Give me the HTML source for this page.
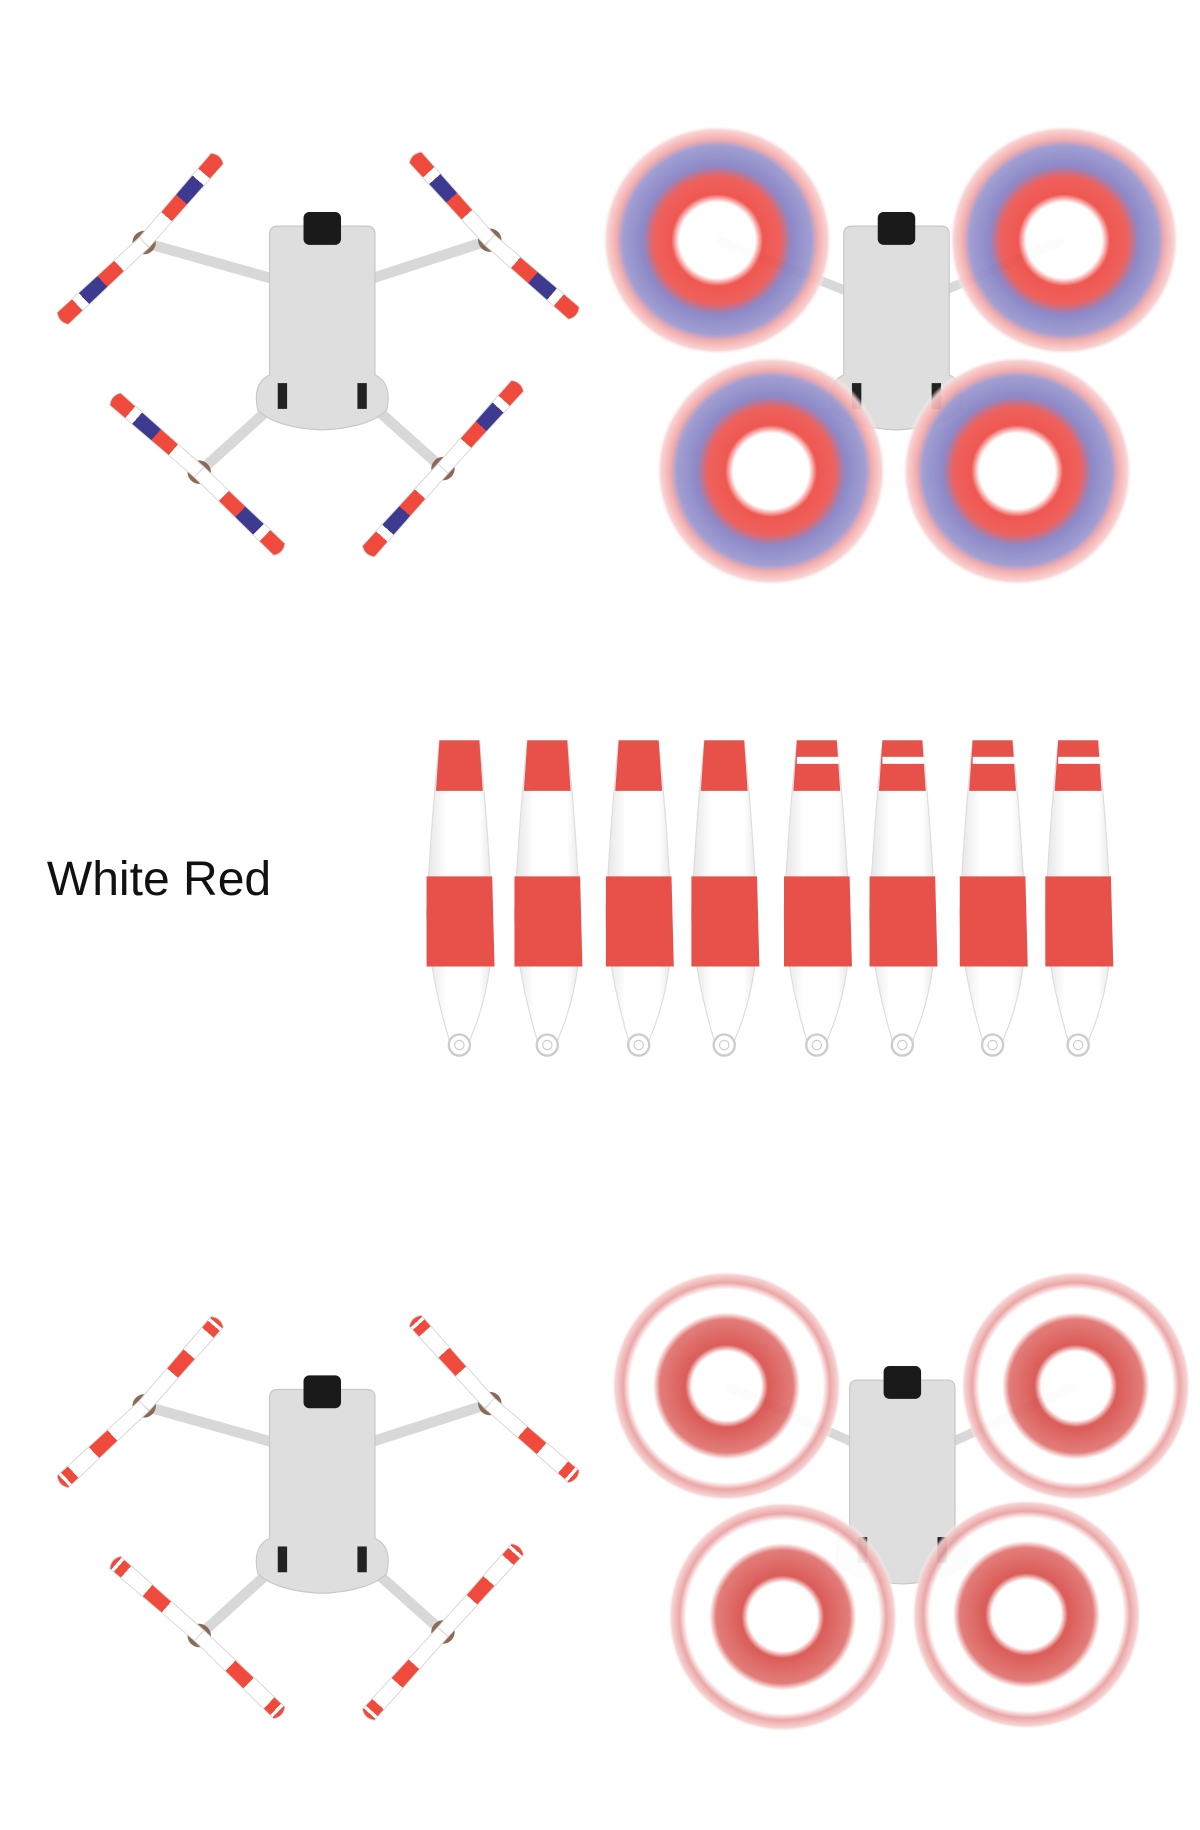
<!DOCTYPE html>
<html><head><meta charset="utf-8"><style>html,body{margin:0;padding:0;background:#fff}svg{display:block}</style></head><body>
<svg width="1200" height="1830" viewBox="0 0 1024 1562" preserveAspectRatio="none" xmlns="http://www.w3.org/2000/svg">
<defs>
<linearGradient id="gA" x1="0" x2="1" y1="0" y2="0">
<stop offset="0" stop-color="#fff"/><stop offset="0.3" stop-color="#fff"/><stop offset="0.3" stop-color="#ef4a3c"/><stop offset="0.5" stop-color="#ef4a3c"/><stop offset="0.5" stop-color="#3d3a8f"/><stop offset="0.72" stop-color="#3d3a8f"/><stop offset="0.72" stop-color="#fff"/><stop offset="0.8" stop-color="#fff"/><stop offset="0.8" stop-color="#ef4a3c"/><stop offset="1" stop-color="#ef4a3c"/></linearGradient>
<linearGradient id="gB" x1="0" x2="1" y1="0" y2="0">
<stop offset="0" stop-color="#fff"/><stop offset="0.38" stop-color="#fff"/><stop offset="0.38" stop-color="#ef4a3c"/><stop offset="0.6" stop-color="#ef4a3c"/><stop offset="0.6" stop-color="#fff"/><stop offset="0.85" stop-color="#fff"/><stop offset="0.85" stop-color="#ef4a3c"/><stop offset="0.93" stop-color="#ef4a3c"/><stop offset="0.93" stop-color="#fff"/><stop offset="0.96" stop-color="#fff"/><stop offset="0.96" stop-color="#ef4a3c"/></linearGradient>
<linearGradient id="pw" x1="0" x2="1" y1="0" y2="0"><stop offset="0" stop-color="#e4e4e4"/><stop offset="0.3" stop-color="#fff"/><stop offset="0.8" stop-color="#fff"/><stop offset="1" stop-color="#e6e6e6"/></linearGradient>
<radialGradient id="dA"><stop offset="0" stop-color="#fff"/><stop offset="0.33" stop-color="#fff"/><stop offset="0.4" stop-color="#ee4b45"/><stop offset="0.55" stop-color="#ee5550"/><stop offset="0.65" stop-color="#8480c4"/><stop offset="0.82" stop-color="#9a97cf"/><stop offset="0.88" stop-color="#f3a8a8"/><stop offset="0.96" stop-color="#f8d0d0"/><stop offset="1" stop-color="#fff" stop-opacity="0"/></radialGradient>
<radialGradient id="dB"><stop offset="0" stop-color="#fff"/><stop offset="0.3" stop-color="#fff"/><stop offset="0.36" stop-color="#d8504c"/><stop offset="0.58" stop-color="#e07370"/><stop offset="0.64" stop-color="#fff"/><stop offset="0.84" stop-color="#fff"/><stop offset="0.9" stop-color="#eaa0a0"/><stop offset="0.97" stop-color="#f6d0d0"/><stop offset="1" stop-color="#fff" stop-opacity="0"/></radialGradient>
<g id="bA"><path d="M0,-6 L95,-7 Q100,0 95,7 L0,6 Z" fill="url(#gA)" stroke="#d6d6d6" stroke-width="0.8"/></g>
<g id="bB"><path d="M0,-6 L95,-7 Q100,0 95,7 L0,6 Z" fill="url(#gB)" stroke="#d6d6d6" stroke-width="0.8"/></g>
<g id="body">
<path d="M-45,-65 Q-45,-72 -38,-72 L38,-72 Q45,-72 45,-65 L45,55 Q60,62 55,85 Q40,100 0,102 Q-40,100 -55,85 Q-60,62 -45,55 Z" fill="#dedede" stroke="#c8c8c8"/>
<rect x="-16" y="-84" width="32" height="28" rx="5" fill="#1a1a1a"/>
<rect x="-38" y="62" width="8" height="22" fill="#222"/><rect x="30" y="62" width="8" height="22" fill="#222"/>
</g>
<g id="motor"><circle r="10" fill="#8a6a55"/><circle r="5" fill="#eee"/></g>
<g id="droneL">
<g stroke="#d8d8d8" stroke-width="9">
<line x1="-35" y1="-25" x2="-152" y2="-58"/><line x1="35" y1="-25" x2="143" y2="-60"/>
<line x1="-30" y1="70" x2="-105" y2="138"/><line x1="30" y1="70" x2="103" y2="135"/></g>
<use href="#body"/>
<use href="#motor" x="-152" y="-58"/><use href="#motor" x="143" y="-60"/><use href="#motor" x="-105" y="138"/><use href="#motor" x="103" y="135"/>
</g>
<g id="prop">
<path d="M-17,632 L17,632 Q24,700 28,780 Q30,830 14,875 L8,890 L-8,890 Q-26,830 -28,780 Q-24,700 -17,632 Z" fill="url(#pw)" stroke="#ddd"/>
<path d="M-17,632 L17,632 L20,675 L-20,675 Z" fill="#e8504a"/>
<path d="M-28,748 L28,748 L30,825 L-28,825 Z" fill="#e8504a"/>
<circle cx="0" cy="892" r="9" fill="#fff" stroke="#ccc" stroke-width="2"/><circle cx="0" cy="892" r="4" fill="#fff" stroke="#ccc"/>
</g>
</defs>

<!-- top left -->
<g transform="translate(275,265)"><use href="#droneL"/>
<use href="#bA" transform="translate(-152,-58) rotate(-49)"/><use href="#bA" transform="translate(-152,-58) rotate(137)"/>
<use href="#bA" transform="translate(143,-60) rotate(-132)"/><use href="#bA" transform="translate(143,-60) rotate(41)"/>
<use href="#bA" transform="translate(-105,138) rotate(-139)"/><use href="#bA" transform="translate(-105,138) rotate(44)"/>
<use href="#bA" transform="translate(103,135) rotate(-48)"/><use href="#bA" transform="translate(103,135) rotate(132)"/>
</g>
<!-- top right -->
<g transform="translate(765,265)"><g stroke="#d8d8d8" stroke-width="8"><line x1="0" y1="0" x2="-153" y2="-60"/><line x1="0" y1="0" x2="143" y2="-60"/></g><use href="#body"/></g>
<g opacity="0.93"><circle cx="612" cy="205" r="98" fill="url(#dA)"/><circle cx="908" cy="205" r="98" fill="url(#dA)"/><circle cx="658" cy="402" r="98" fill="url(#dA)"/><circle cx="868" cy="402" r="98" fill="url(#dA)"/></g>

<!-- middle -->
<text x="40" y="764" font-family="Liberation Sans, sans-serif" font-size="41" fill="#111">White Red</text>
<use href="#prop" x="392"/><use href="#prop" x="467"/><use href="#prop" x="545"/><use href="#prop" x="618"/>
<use href="#prop" x="697"/><use href="#prop" x="770"/><use href="#prop" x="847"/><use href="#prop" x="920"/>
<g fill="#fff"><rect x="680" y="646" width="36" height="6"/><rect x="753" y="646" width="36" height="6"/><rect x="830" y="646" width="36" height="6"/><rect x="903" y="646" width="36" height="6"/></g>

<!-- bottom left -->
<g transform="translate(275,1258)"><use href="#droneL"/>
<use href="#bB" transform="translate(-152,-58) rotate(-49)"/><use href="#bB" transform="translate(-152,-58) rotate(137)"/>
<use href="#bB" transform="translate(143,-60) rotate(-132)"/><use href="#bB" transform="translate(143,-60) rotate(41)"/>
<use href="#bB" transform="translate(-105,138) rotate(-139)"/><use href="#bB" transform="translate(-105,138) rotate(44)"/>
<use href="#bB" transform="translate(103,135) rotate(-48)"/><use href="#bB" transform="translate(103,135) rotate(132)"/>
</g>
<!-- bottom right -->
<g transform="translate(770,1250)"><g stroke="#d8d8d8" stroke-width="8"><line x1="0" y1="0" x2="-150" y2="-67"/><line x1="0" y1="0" x2="148" y2="-67"/></g><use href="#body"/></g>
<g opacity="0.93"><circle cx="620" cy="1183" r="98" fill="url(#dB)"/><circle cx="918" cy="1183" r="98" fill="url(#dB)"/><circle cx="668" cy="1380" r="98" fill="url(#dB)"/><circle cx="876" cy="1378" r="98" fill="url(#dB)"/></g>
</svg>
</body></html>
